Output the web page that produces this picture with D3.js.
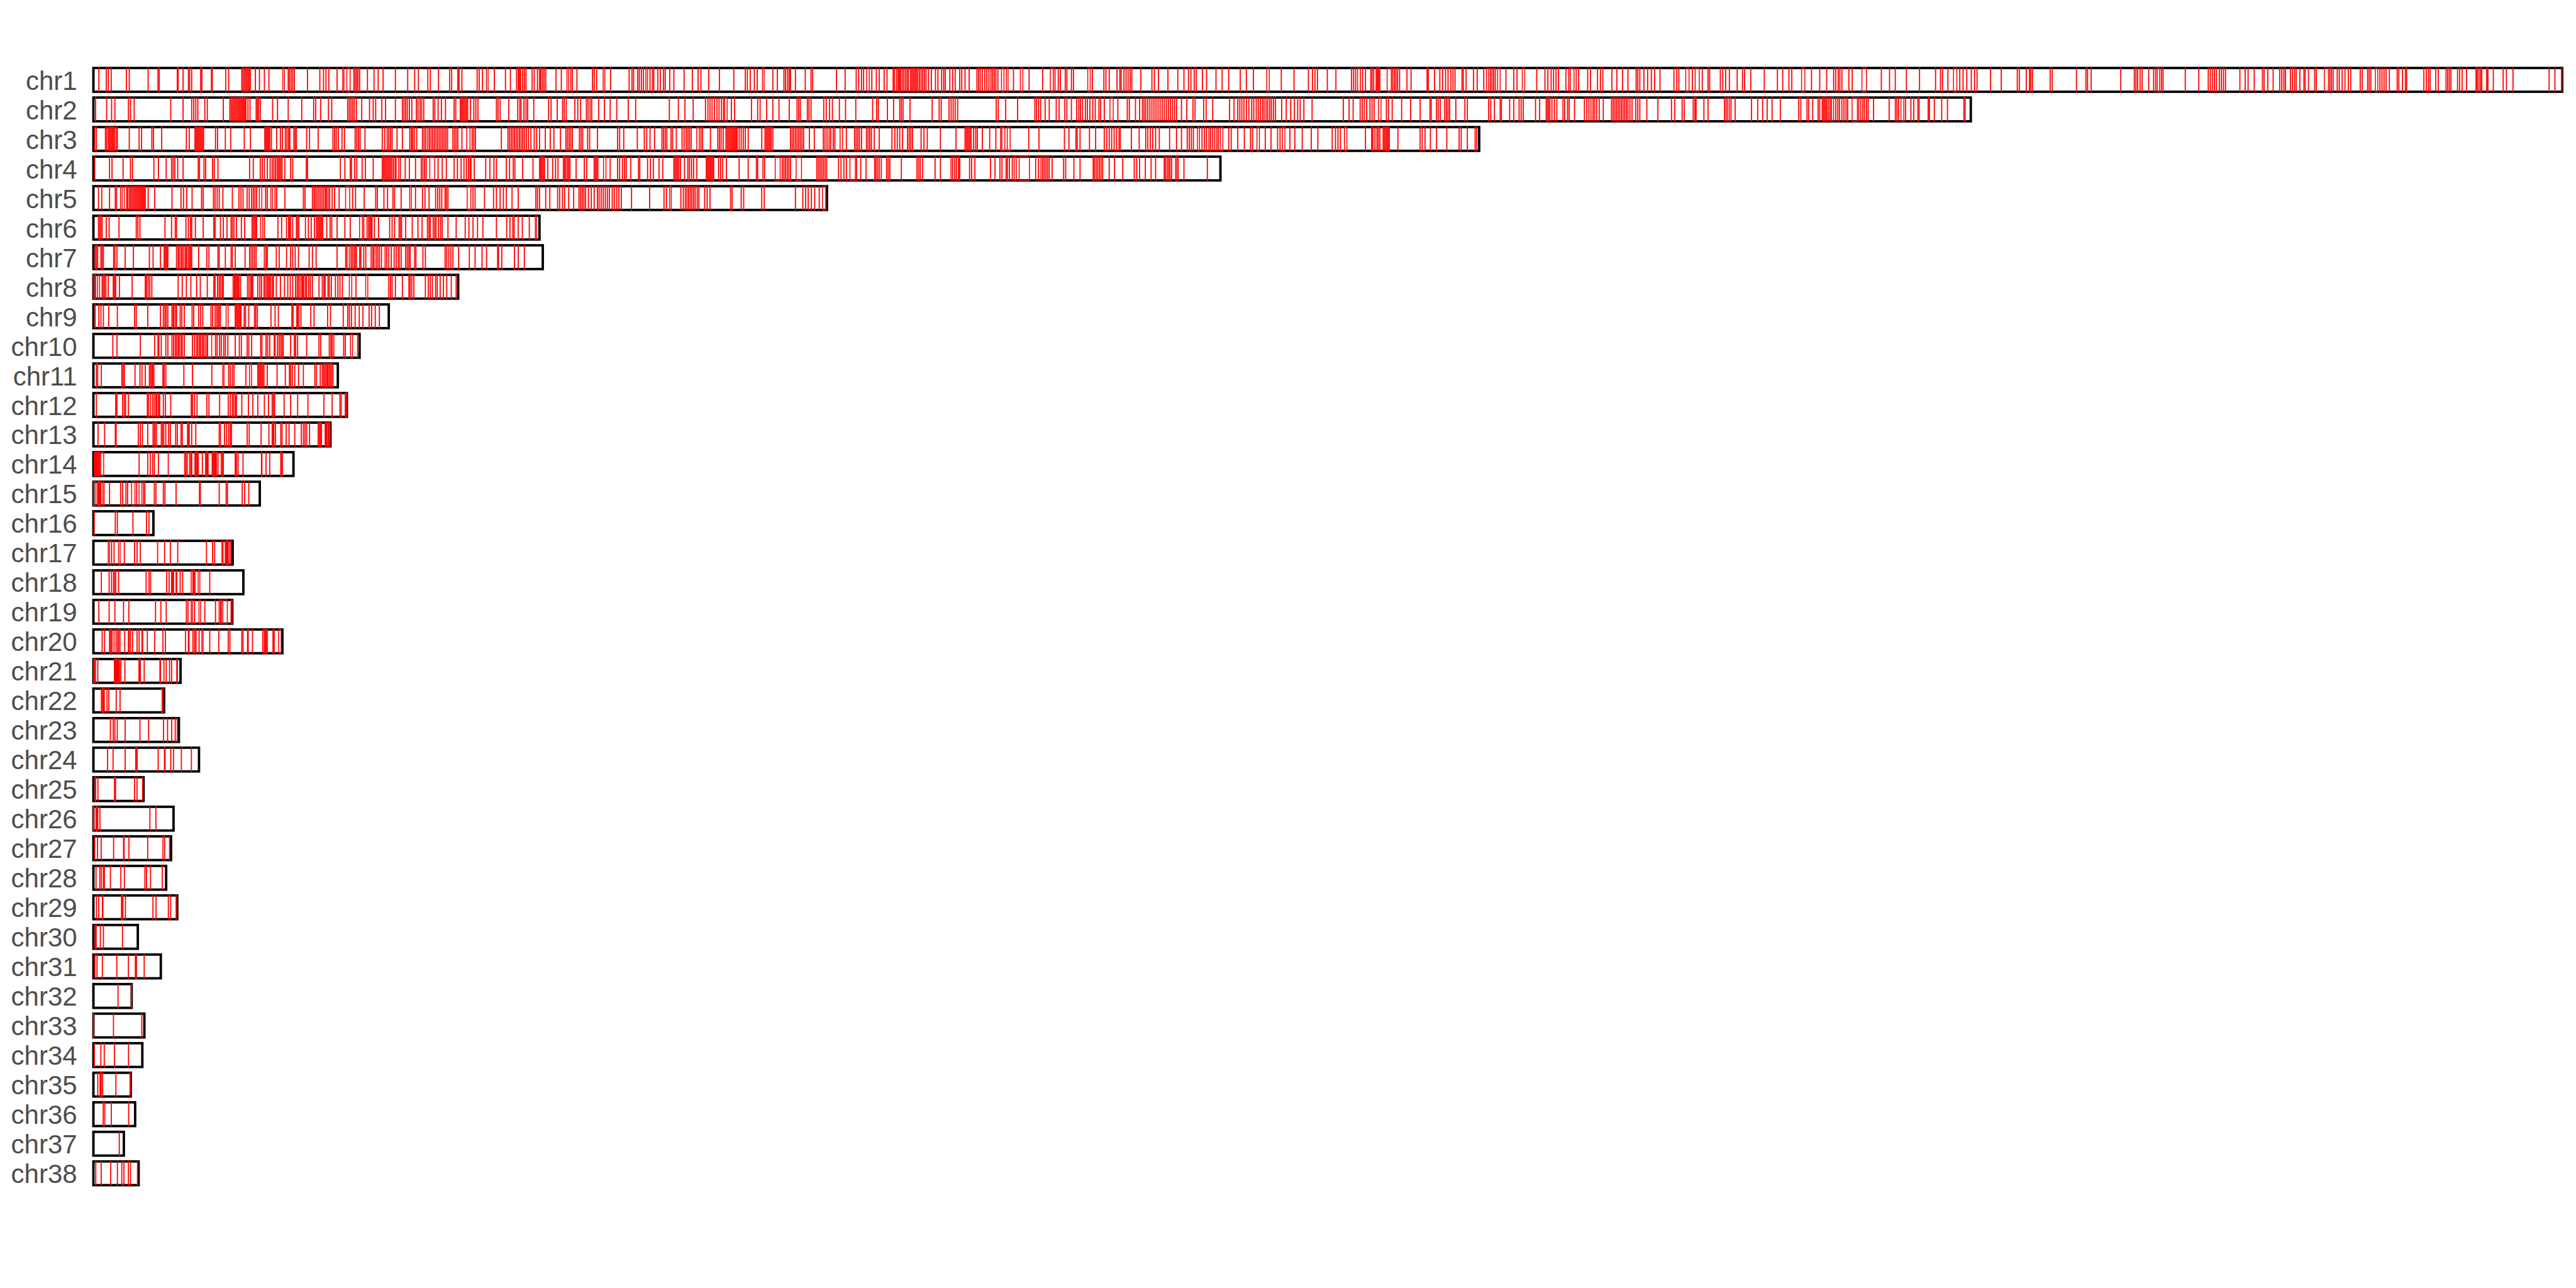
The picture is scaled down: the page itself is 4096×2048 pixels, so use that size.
<!DOCTYPE html>
<html><head><meta charset="utf-8">
<script src="https://cdn.jsdelivr.net/npm/d3@7"></script>
<style>html,body{margin:0;padding:0;background:#fff;} svg{display:block;}</style>
</head><body>
<script>
// Chromosome names and lengths (Mb)
const chromNames = ["chr1","chr2","chr3","chr4","chr5","chr6","chr7","chr8","chr9","chr10","chr11","chr12","chr13","chr14","chr15","chr16","chr17","chr18","chr19","chr20","chr21","chr22","chr23","chr24","chr25","chr26","chr27","chr28","chr29","chr30","chr31","chr32","chr33","chr34","chr35","chr36","chr37","chr38"];
const chromLengths = [601.7,457.7,338.0,275.0,179.2,109.2,110.0,89.4,72.5,65.4,60.1,62.3,58.3,49.3,41.1,15.2,34.5,37.1,34.4,46.6,21.8,17.8,21.4,26.3,12.8,20.1,19.5,18.3,21.0,11.4,17.0,9.9,13.0,12.5,9.7,10.75,8.0,11.6];

// Feature positions (Mb); [start, end] pairs are wider features
const chr1 = [1.6,3.4,3.9,4.6,8.3,9.0,13.6,16.0,16.3,20.7,20.9,22.1,23.4,23.7,24.2,26.4,26.7,29.0,29.2,32.5,33.2,36.4,36.7,37.0,37.3,37.6,37.9,38.2,38.5,39.7,40.7,41.9,43.0,[46.4,46.8],47.7,48.0,48.4,48.8,49.2,52.4,55.4,56.3,56.9,57.6,59.6,[61.0,61.3],[62.0,62.8],63.7,64.0,64.4,64.7,65.1,67.0,68.6,69.6,70.8,73.8,76.8,78.5,79.4,81.7,82.3,84.3,87.0,87.5,89.0,89.3,90.0,93.7,94.2,95.0,[96.0,96.4],97.9,100.6,101.8,103.3,103.7,104.0,104.3,104.8,105.2,105.6,107.1,107.6,108.4,108.9,109.2,109.6,110.0,110.4,112.9,114.2,[115.6,116.0],116.5,116.9,118.0,121.8,122.2,122.8,[124.4,124.8],126.2,130.7,131.4,131.8,132.8,133.2,133.7,134.2,[134.8,135.2],135.8,136.4,136.7,137.7,138.3,139.1,139.5,140.6,141.6,144.1,146.1,147.5,148.2,150.1,152.7,
156.2,159.0,159.5,160.2,161.2,161.9,[163.2,163.6],165.7,166.8,168.4,168.8,169.3,169.7,170.0,171.2,173.6,175.0,175.4,181.2,183.3,186.0,186.6,187.3,187.8,[188.6,189.2],189.8,190.9,191.6,192.8,193.5,195.0,195.3,195.8,196.2,196.5,196.8,197.2,197.6,198.0,198.4,198.7,199.2,199.5,199.8,200.1,200.4,200.7,201.0,201.4,201.8,202.2,202.6,203.0,203.6,204.3,205.3,205.9,206.8,207.3,207.7,208.8,209.5,210.1,211.2,211.7,212.5,213.5,215.4,215.8,216.2,216.7,217.3,217.8,218.3,218.8,219.2,219.6,220.0,220.5,[221.4,222.0],[222.6,223.0],224.3,[226.0,226.6],228.1,231.4,[233.3,234.0],234.4,235.2,235.7,236.9,237.3,238.4,238.9,[242.4,243.0],243.5,246.3,246.8,247.6,249.5,250.2,250.5,251.2,251.7,252.2,252.7,253.1,255.3,258.0,258.6,259.6,261.9,264.3,265.8,266.9,267.5,268.3,268.8,270.3,271.3,273.6,275.1,276.7,279.5,281.0,282.7,[286.0,286.6],289.5,292.6,296.1,297.1,297.7,298.3,300.7,302.8,306.6,307.1,307.6,[308.1,308.8],309.3,310.0,
311.3,311.6,312.0,312.6,312.9,313.2,313.5,[315.3,316.3],316.6,317.0,317.4,317.8,318.3,320.1,321.1,325.0,325.3,326.8,328.1,328.8,329.5,330.1,330.8,331.3,331.8,333.5,333.8,334.5,336.3,337.2,338.8,[339.5,340.0],340.4,340.8,341.2,341.6,[342.2,342.8],344.2,346.1,346.9,[348.2,348.8],351.7,353.7,354.4,355.2,355.8,356.4,357.0,358.8,359.5,[359.9,360.8],361.3,361.9,364.1,364.8,366.5,367.2,367.8,370.0,371.2,372.6,373.9,375.9,376.3,376.8,377.8,378.7,379.6,380.4,381.7,385.1,385.8,386.3,[388.0,388.8],389.6,[390.3,391.3],392.0,393.4,393.8,396.4,397.0,397.7,398.6,400.5,401.8,402.3,403.8,407.1,410.3,411.6,413.1,413.8,[416.2,417.0],418.6,420.6,422.3,424.0,424.5,425.1,425.5,426.0,427.7,428.5,[430.9,432.0],435.6,437.6,439.0,441.7,444.9,448.8,450.0,450.5,451.8,[453.2,454.0],454.7,455.5,456.4,457.5,458.3,458.9,462.2,464.8,
468.7,469.2,470.9,471.7,472.0,472.4,476.7,477.2,483.1,485.4,485.8,486.7,493.9,497.2,497.6,498.0,498.6,499.1,500.7,501.9,502.4,[502.8,503.4],503.8,504.2,509.6,512.9,515.2,515.7,516.2,516.7,517.2,517.9,518.4,518.9,519.4,522.9,524.2,524.9,526.4,528.4,528.8,529.7,531.0,532.6,533.1,533.6,534.0,535.2,535.7,536.2,536.6,537.5,538.5,538.8,539.6,541.1,541.5,[543.5,544.5],544.8,545.2,545.6,546.6,547.1,547.8,548.5,549.3,549.9,552.2,552.7,554.0,554.4,554.8,[555.9,556.5],557.0,557.5,558.0,558.5,559.3,561.2,561.6,562.5,563.2,563.5,567.7,568.3,568.8,569.2,570.6,571.2,573.1,573.5,573.9,574.3,575.9,576.4,577.0,578.1,580.4,580.7,581.1,581.5,581.8,583.0,583.3,584.6,587.0,587.8,589.4,598.2,599.6,601.3];
const chr2 = [0.8,3.5,4.7,5.5,8.8,9.3,10.2,19.1,22.1,24.2,24.7,25.2,25.7,27.4,28.0,31.9,33.5,33.8,34.1,34.4,34.7,35.0,35.3,35.6,35.9,36.2,36.5,36.8,37.1,37.4,37.9,38.4,39.9,40.2,40.5,40.9,43.9,45.1,47.7,51.0,53.9,54.4,55.6,57.5,58.3,62.2,62.6,63.0,63.4,63.8,64.3,65.6,67.5,68.4,69.0,70.5,71.4,73.8,75.5,75.9,76.3,76.7,77.2,77.8,78.9,79.3,79.8,80.2,80.7,83.0,83.4,84.2,85.0,86.0,88.1,88.5,89.6,89.9,90.2,90.5,90.8,91.1,91.4,92.1,92.9,93.4,93.9,98.4,98.8,99.3,101.4,103.6,104.1,104.4,105.1,105.6,106.0,107.5,111.1,111.7,113.2,114.5,114.9,115.4,117.5,118.2,118.9,120.3,120.7,121.2,121.6,123.3,124.7,126.1,127.7,130.5,132.3,140.5,142.7,144.3,146.3,149.3,149.9,150.4,150.9,151.5,152.1,152.6,153.2,153.7,
[154.0,154.6],155.6,156.4,160.5,162.0,162.6,164.2,165.7,167.2,169.7,171.6,172.0,172.4,174.1,174.5,175.0,178.1,178.7,179.5,180.2,181.9,183.4,185.9,190.0,191.0,191.4,193.6,195.1,196.6,197.0,197.4,199.1,204.5,206.2,206.7,208.6,209.1,209.6,210.1,210.7,220.1,220.6,222.4,225.3,229.5,229.9,230.4,230.9,232.0,233.0,234.7,235.4,236.8,237.3,238.4,239.7,240.2,240.6,241.1,241.8,242.3,242.9,243.6,244.2,245.1,245.5,246.4,[247.8,248.6],249.7,252.0,252.5,254.0,255.0,255.7,256.1,256.5,257.0,257.5,258.0,258.5,259.0,259.5,260.0,260.5,261.0,261.5,262.0,262.5,263.0,263.5,264.0,265.2,266.5,268.0,268.5,270.6,271.2,272.8,276.9,278.0,278.9,279.4,279.9,280.4,281.0,281.6,282.3,282.8,283.4,283.9,284.4,284.9,285.3,285.8,286.2,286.7,287.1,287.6,288.1,289.6,290.7,291.8,292.7,293.5,294.1,295.0,297.0,304.6,306.0,307.0,308.7,309.2,309.7,310.3,
311.1,311.6,312.1,[313.2,313.8],315.1,315.6,316.5,318.8,321.0,323.3,325.7,326.0,327.3,327.7,328.2,329.3,329.7,330.1,330.5,332.0,334.2,334.8,340.0,340.5,341.4,342.8,343.1,345.1,346.1,347.4,347.9,348.4,351.4,352.4,354.0,354.3,354.6,354.9,355.4,356.0,356.6,358.1,358.5,359.2,359.6,360.9,363.3,363.9,364.4,364.9,365.4,365.8,366.3,366.9,367.9,369.9,370.3,370.7,371.1,371.5,371.9,372.3,372.7,373.1,373.5,373.9,374.4,374.9,375.8,376.3,376.8,378.5,381.2,384.5,385.3,387.1,387.6,389.8,390.2,390.5,392.4,393.4,397.4,397.8,[398.2,398.6],399.0,400.0,404.0,405.5,406.7,407.8,409.0,411.0,415.5,416.0,417.5,417.9,418.9,420.2,420.6,421.2,421.5,421.8,422.1,422.4,422.8,423.2,[423.5,424.0],424.5,425.0,425.4,426.0,426.5,427.0,427.4,[428.5,429.8],430.1,430.6,431.1,431.5,432.0,432.4,433.7,437.5,439.0,439.4,439.8,[440.4,441.1],441.5,442.8,443.5,444.5,444.8,447.0,447.3,448.5,450.3,451.7,455.7,456.0];
const chr3 = [0.6,1.0,3.2,3.5,3.9,4.2,4.5,4.8,5.1,5.4,5.8,6.1,9.0,11.4,12.0,14.5,14.9,16.9,22.9,23.6,25.0,25.3,25.6,25.9,26.2,26.5,26.8,27.1,30.0,30.5,32.4,33.7,37.0,38.5,42.0,42.3,42.6,42.9,43.2,43.6,44.9,45.8,46.3,47.0,47.4,47.8,48.1,49.1,49.4,49.7,52.2,52.9,55.0,58.6,59.0,59.4,59.9,60.8,61.4,64.0,64.4,64.8,65.2,66.4,70.6,71.2,71.8,72.2,72.6,73.0,74.2,75.5,77.3,77.7,78.0,78.4,79.0,80.4,80.8,81.2,81.7,82.1,82.5,82.9,83.3,83.7,84.1,84.5,84.9,85.3,85.7,86.1,86.5,87.8,88.2,88.6,89.0,90.0,[91.2,92.0],92.5,92.9,93.3,99.6,101.2,101.6,102.0,102.4,102.8,103.2,103.6,104.0,104.4,104.8,105.2,105.7,106.2,106.8,107.6,108.2,108.9,110.3,111.5,112.4,114.0,115.3,115.7,116.1,116.5,116.9,118.6,119.0,119.4,120.6,121.1,123.0,127.9,128.4,129.4,132.7,134.4,135.0,135.8,136.9,138.7,139.1,139.5,139.9,140.9,141.3,142.2,143.6,144.1,144.6,145.0,145.4,145.8,[147.2,147.8],148.2,148.6,150.5,152.3,152.7,153.1,153.6,
154.3,154.6,154.9,155.2,155.5,155.8,156.1,156.4,156.7,157.0,157.5,158.0,158.5,159.0,159.7,163.0,163.8,164.1,164.4,164.7,165.0,165.3,165.7,170.0,170.4,170.8,171.2,171.6,172.0,172.4,172.8,173.2,174.6,175.8,178.0,178.4,178.9,179.4,179.8,180.4,180.8,[182.1,182.7],183.6,185.6,186.0,186.4,186.8,187.3,188.5,188.9,189.3,189.7,190.4,191.6,194.7,195.4,196.0,196.6,197.3,198.5,198.9,199.3,199.7,201.8,202.5,203.3,206.5,210.3,212.5,212.8,213.1,213.4,213.7,214.0,214.6,215.1,215.5,216.7,218.5,220.0,221.2,[221.5,222.2],[222.8,223.5],228.0,230.5,236.7,237.8,239.5,239.8,240.5,242.8,244.3,246.4,247.0,247.6,248.2,248.8,249.4,250.0,250.3,253.0,254.9,256.5,257.0,257.6,258.2,258.9,259.8,262.3,264.0,265.2,266.6,267.1,267.6,268.1,[269.1,269.6],270.2,270.8,271.3,271.9,272.3,272.8,273.3,273.8,274.2,[274.7,275.3],276.7,277.3,278.9,280.5,282.0,282.5,[283.6,284.2],285.6,287.0,288.6,289.2,[289.8,290.4],291.6,292.8,294.6,296.8,298.4,301.9,302.7,303.3,303.9,[304.9,305.5],310.0,
311.5,311.8,312.3,312.8,313.1,313.5,314.3,314.6,314.9,315.2,315.5,315.8,317.9,323.3,323.8,324.5,325.8,327.3,329.8,332.8,333.3,334.8,336.7,337.1];
const chr4 = [0.6,4.2,4.8,7.5,9.3,9.8,15.0,16.1,18.0,19.3,19.7,20.1,20.8,22.1,25.8,26.1,27.2,27.6,29.3,29.7,30.6,38.3,39.2,40.9,41.4,41.9,42.6,43.3,43.8,44.2,44.6,45.0,45.3,45.6,45.9,46.2,46.9,48.3,48.8,52.1,52.4,60.4,61.5,62.8,63.1,63.9,64.4,65.7,66.5,68.4,70.6,70.9,71.2,71.5,71.8,72.1,72.4,72.7,73.0,73.4,73.8,[74.0,74.6],75.0,76.2,77.2,78.7,80.1,80.5,80.9,81.3,[82.2,83.4],84.2,85.2,86.2,88.1,88.9,89.8,90.5,91.1,91.6,92.0,92.2,93.0,95.8,96.8,97.8,98.4,100.8,101.6,102.5,102.9,104.8,107.3,108.9,109.2,109.5,109.8,110.1,110.9,112.1,112.8,113.4,114.7,115.0,115.3,115.7,116.0,116.3,117.8,119.8,120.4,122.2,122.5,122.8,123.1,[124.5,125.1],126.1,127.9,128.4,129.1,129.6,130.0,131.1,133.0,133.3,135.2,135.9,136.6,138.0,138.9,141.6,141.9,142.2,142.5,142.8,143.2,144.2,145.0,145.4,145.9,146.4,147.2,149.5,149.8,150.1,150.4,150.7,151.0,151.3,152.5,153.0,153.5,
154.4,157.5,159.7,161.7,162.0,163.3,163.7,[166.3,167.5],168.0,168.4,168.8,169.2,169.6,170.0,[171.4,172.7],176.4,176.8,177.2,177.6,178.0,178.4,178.8,181.7,182.3,183.0,183.6,[184.5,185.8],186.1,187.1,188.4,190.5,190.8,191.2,191.6,192.1,193.4,193.8,194.2,197.0,200.8,201.2,201.6,202.2,205.2,206.5,209.1,209.5,210.0,210.4,210.9,211.2,213.6,214.1,214.9,218.7,219.8,221.0,221.5,222.5,222.8,223.3,224.0,[224.5,225.0],[225.7,228.2],229.7,230.4,231.0,231.4,231.8,232.2,232.6,233.0,233.7,236.5,237.0,239.0,240.5,243.7,244.0,244.4,244.8,245.2,245.6,246.0,247.6,248.9,250.9,253.7,254.3,255.0,256.4,257.8,258.9,261.0,261.3,261.7,262.1,262.4,262.8,[263.8,264.1],264.4,265.8,271.5];
const chr5 = [1.5,2.3,4.2,5.6,5.9,[6.9,7.3],[7.8,8.4],8.6,9.0,9.3,9.6,9.9,10.2,10.5,10.8,11.1,11.4,11.7,12.0,12.3,12.6,12.9,13.6,15.2,19.4,21.6,22.2,23.0,24.3,26.6,27.0,29.5,29.9,30.4,30.9,31.8,34.1,35.7,36.2,36.7,37.7,38.2,38.8,39.2,39.6,40.0,[40.7,41.3],42.2,42.6,[43.5,43.9],44.5,44.9,46.9,51.4,51.8,53.6,54.0,54.3,54.7,55.1,55.5,55.9,56.3,56.7,57.0,57.4,57.8,58.4,59.0,60.1,[61.7,62.7],63.4,64.1,66.2,69.0,69.4,71.0,71.9,73.2,73.6,75.2,[77.3,77.7],78.7,80.4,81.0,82.0,83.6,84.1,84.6,85.1,85.9,86.2,86.6,[91.3,92.2],92.7,93.2,95.5,97.7,98.4,99.3,100.1,100.8,102.2,103.7,108.0,108.4,108.9,110.4,111.4,113.3,113.8,114.5,115.0,116.0,117.2,118.5,118.9,119.3,119.7,120.1,120.8,121.5,122.2,123.0,123.4,123.9,124.4,124.9,125.4,125.9,126.6,127.1,127.7,128.2,128.8,131.3,135.7,139.2,139.8,[140.6,141.0],143.3,143.9,144.4,144.8,145.2,145.6,146.0,146.4,146.8,147.3,147.7,149.1,149.7,150.4,
155.4,155.8,158.0,158.6,163.0,163.6,171.2,173.0,173.7,174.3,175.1,175.9,177.0,[177.8,178.6]];
const chr6 = [1.5,1.8,2.1,2.4,3.4,4.1,6.5,10.7,11.1,11.6,17.7,19.3,20.2,20.5,22.8,23.4,23.9,24.2,25.1,27.0,29.6,29.9,31.2,31.9,32.8,33.8,34.1,34.5,35.1,36.3,37.1,38.9,39.2,39.5,39.8,40.0,[41.0,41.5],41.9,45.2,46.1,47.3,47.8,48.0,48.3,48.8,49.7,50.0,50.3,51.9,52.6,53.3,54.1,54.6,54.9,55.2,55.5,55.8,56.1,57.1,57.9,58.3,59.6,61.5,62.8,[65.1,65.8],66.1,66.9,67.3,67.6,67.9,68.1,68.7,69.7,72.4,73.0,73.6,74.7,75.0,75.3,76.3,77.9,79.3,80.3,81.6,82.0,82.3,83.0,83.4,83.7,84.3,84.8,85.2,86.6,88.6,90.8,91.7,92.7,93.8,95.1,98.4,100.9,101.7,102.4,102.7,103.7,104.7,106.4,[107.9,108.2]];
const chr7 = [0.7,1.0,1.3,2.1,2.4,2.7,5.2,5.5,6.0,8.0,10.0,13.9,14.8,16.6,17.5,17.8,18.1,18.4,20.5,20.9,21.2,21.6,21.9,22.3,22.7,23.0,23.4,23.7,23.9,24.2,25.9,27.9,28.4,30.6,30.9,32.4,33.8,34.1,34.8,37.2,38.3,38.7,39.1,39.5,39.9,41.9,42.3,42.6,44.8,45.5,47.3,48.3,48.8,49.4,50.2,52.8,53.6,54.5,59.6,61.7,62.0,[62.6,63.0],63.3,63.7,64.0,64.3,65.1,65.4,66.1,66.6,67.9,68.3,68.6,69.1,69.5,69.9,70.4,71.3,71.7,72.2,72.8,73.5,74.0,[74.5,74.8],75.2,76.3,76.7,77.1,77.4,78.5,78.8,80.5,81.1,85.9,86.3,86.8,87.3,87.8,89.2,91.8,93.2,94.9,96.0,98.7,98.9,99.7,102.8,103.7,105.2];
const chr8 = [[0.3,0.7],0.8,[1.3,1.8],2.4,2.7,3.0,3.3,3.9,5.1,5.4,5.7,6.6,9.7,12.9,13.2,13.6,14.0,14.5,20.9,21.9,22.9,24.0,25.4,26.3,28.0,29.6,29.9,30.5,30.9,31.2,31.6,31.9,34.3,34.6,34.8,35.1,35.4,35.7,36.1,37.8,38.2,38.6,38.8,39.1,40.3,40.8,41.2,41.8,42.1,42.5,42.8,43.1,43.4,43.8,44.1,44.8,45.8,46.8,47.6,48.2,48.8,49.5,49.9,50.2,50.6,51.0,51.2,51.5,51.9,52.2,52.7,53.1,53.6,55.2,56.0,56.4,56.7,57.4,57.7,58.2,59.2,59.8,60.3,60.9,[62.6,63.2],64.2,[66.6,67.1],72.2,72.6,73.0,73.8,75.5,77.1,77.4,77.8,78.3,81.1,81.8,82.3,82.8,83.6,84.0,84.7,85.5,86.3,87.4,88.6];
const chr9 = [0.7,1.6,2.1,2.7,4.0,6.1,10.3,10.7,13.5,16.6,17.3,17.7,18.0,18.4,19.4,19.7,19.9,20.3,20.5,21.4,21.8,22.4,24.3,24.7,25.9,26.4,26.9,28.9,29.3,29.9,30.3,30.6,30.9,31.2,[32.6,33.1],34.8,35.1,35.4,35.7,36.0,36.2,37.0,37.3,38.1,39.5,39.8,40.2,43.5,44.5,45.3,48.6,48.9,49.8,50.0,50.3,50.8,53.2,54.0,57.3,58.0,61.1,62.2,62.6,63.1,64.0,65.0,65.9,67.4,68.0,68.9,69.9];
const chr10 = [5.0,6.0,11.7,15.2,16.0,16.2,16.8,17.9,18.4,19.4,19.8,20.2,20.5,20.9,21.2,21.6,21.9,22.4,24.4,24.9,25.4,25.7,26.1,26.4,26.8,27.1,27.5,27.9,[28.1,29.1],30.0,30.4,31.0,31.4,32.0,32.4,33.0,34.8,35.8,36.3,37.7,38.1,38.8,41.0,41.3,42.3,42.7,43.2,44.3,44.5,45.1,45.5,45.9,46.2,46.5,48.3,49.2,49.5,50.0,52.2,55.2,55.6,57.7,58.1,58.4,58.8,61.2,61.6,[62.9,63.4],64.6];
const chr11 = [1.0,1.3,2.2,7.2,7.5,7.8,10.4,11.6,12.1,12.9,13.9,14.2,14.5,14.7,15.0,17.2,17.5,17.9,22.3,24.4,29.1,[31.8,32.1],33.2,33.6,34.1,34.5,37.4,[38.3,38.8],40.3,40.6,40.9,41.2,41.5,41.8,42.6,45.0,47.0,48.0,48.3,48.7,49.3,50.2,51.4,54.2,54.6,55.5,56.0,56.3,56.6,56.9,57.2,57.4,57.7,58.0,58.3,58.6];
const chr12 = [1.0,5.7,6.0,7.4,7.8,8.1,8.8,13.4,13.7,14.2,14.7,15.1,15.5,15.7,16.1,16.4,17.3,17.8,19.1,24.1,24.4,24.9,25.5,27.9,28.4,31.0,33.1,33.6,34.1,34.4,34.8,35.1,36.4,38.0,39.1,40.3,41.9,42.9,43.8,44.1,44.4,46.7,48.3,50.0,52.5,56.4,58.4,60.3,60.6,61.6,61.9];
const chr13 = [1.4,3.0,5.6,5.8,11.2,11.7,12.2,13.5,14.8,15.1,[15.4,15.7],16.8,17.1,17.4,17.9,18.6,19.0,20.3,20.7,21.6,21.9,23.2,23.4,23.6,24.2,25.2,30.9,31.2,32.2,32.7,33.2,33.6,33.9,37.7,38.2,41.1,43.0,43.8,44.0,44.2,44.6,45.9,46.2,47.2,47.9,49.3,50.9,51.4,51.8,52.2,52.9,55.0,55.3,55.6,55.8,56.7,56.9,57.1,57.4,[57.6,57.9]];
const chr14 = [0.5,0.7,0.8,1.0,1.1,1.3,1.4,1.6,1.8,[2.1,2.8],11.4,13.5,14.1,14.7,15.1,16.1,18.5,22.5,22.8,23.1,23.7,24.0,24.2,25.0,25.1,25.3,25.6,25.8,26.8,27.6,27.8,28.0,28.2,29.2,29.4,29.6,29.8,30.0,30.2,30.6,31.4,31.7,31.9,34.8,35.1,35.5,36.7,41.2,41.3,42.3,43.2,45.9,46.0,46.3];
const chr15 = [[0.3,0.9],1.3,1.4,1.5,1.7,1.8,2.0,2.1,[2.6,2.9],4.2,6.9,7.4,8.2,8.6,[9.6,10.4],10.8,[11.4,12.1],12.5,12.8,15.1,15.5,17.3,17.7,20.4,26.1,26.3,30.9,32.6,32.9,36.5,37.1,38.1];
const chr16 = [0.45,5.6,6.1,9.9,13.2,13.8];
const chr17 = [[3.9,4.2],4.7,5.3,[6.4,6.8],7.8,10.3,10.9,11.7,15.9,17.6,19.0,20.8,27.8,29.3,29.8,31.6,31.8,32.4,32.6,32.8,32.9,33.1,33.5,33.8];
const chr18 = [2.2,4.1,4.7,[5.2,5.4],5.7,6.4,13.1,13.8,14.2,18.1,18.7,19.3,19.5,19.6,19.8,[20.4,20.6],21.4,22.0,[24.1,24.5],24.7,25.0,[25.8,26.2],28.6];
const chr19 = [1.6,4.1,5.5,7.6,8.9,15.4,16.7,18.0,22.9,23.3,[24.1,24.4],24.9,[26.0,26.4],27.4,30.0,[30.9,31.2],31.4,[31.8,32.9],[33.8,34.1]];
const chr20 = [2.4,3.0,4.2,4.5,4.8,5.3,5.8,6.2,[6.5,6.8],7.9,[8.8,9.0],9.3,9.8,10.9,11.4,[12.1,12.3],13.4,15.2,17.2,17.8,22.7,[23.4,23.6],24.5,24.9,[25.2,25.3],26.0,[26.7,27.0],28.6,30.8,33.1,33.5,36.4,36.7,[37.8,38.0],39.0,41.5,41.9,42.1,42.3,42.6,44.0,44.3,[45.4,46.0]];
const chr21 = [0.36,0.49,0.62,0.75,1.34,5.39,5.55,5.72,5.88,6.14,6.31,6.47,6.6,6.96,7.94,11.37,11.53,11.7,12.64,16.47,16.6,17.45,18.0,18.82,19.31,20.58,20.71];
const chr22 = [2.22,2.52,2.71,2.91,3.59,4.02,5.82,6.76,17.02,17.12];
const chr23 = [4.41,5.1,5.49,6.08,8.0,11.6,13.72,17.35,18.33,19.34,20.19,20.71];
const chr24 = [3.72,5.06,8.0,10.59,10.68,10.94,16.04,17.58,17.71,19.11,19.77,21.69,24.14];
const chr25 = [0.69,0.82,1.37,5.42,5.65,10.29,10.88,12.25];
const chr26 = [0.26,0.36,0.91,1.01,1.11,1.24,1.34,1.86,14.02,15.49];
const chr27 = [0.59,1.27,2.16,5.19,7.61,7.74,8.92,13.49,17.22,17.64,18.82];
const chr28 = [0.91,1.83,2.22,2.71,2.94,4.41,6.96,7.81,12.81,13.2,14.18,17.05];
const chr29 = [1.01,1.57,2.48,2.58,7.12,7.32,7.45,8.07,14.77,15.52,18.52,19.08,20.42];
const chr30 = [0.69,0.82,0.95,1.96,2.71,7.35];
const chr31 = [0.65,1.14,2.45,5.98,8.79,10.49,10.75,12.64];
const chr32 = [6.27,9.51];
const chr33 = [0.29,5.16,12.06];
const chr34 = [0.49,2.09,2.91,5.42,8.82];
const chr35 = [1.34,1.89,2.02,2.16,2.52,5.75,9.28];
const chr36 = [2.65,3.04,4.64,8.85];
const chr37 = [6.57];
const chr38 = [0.85,2.16,4.48,6.11,7.19,7.71,8.79,9.31,11.01];

const featureSets = [chr1,chr2,chr3,chr4,chr5,chr6,chr7,chr8,chr9,chr10,chr11,chr12,chr13,chr14,chr15,chr16,chr17,chr18,chr19,chr20,chr21,chr22,chr23,chr24,chr25,chr26,chr27,chr28,chr29,chr30,chr31,chr32,chr33,chr34,chr35,chr36,chr37,chr38];

const W = 4096, H = 2048;
const svg = d3.select("body").append("svg").attr("width", W).attr("height", H);
svg.append("rect").attr("width", W).attr("height", H).attr("fill", "#fff");

const x = d3.scaleLinear().domain([0, d3.max(chromLengths)]).range([146.6, 4076]);
const y = d3.scalePoint().domain(chromNames).range([127.0, 1865.6]);

const strokeW = 3.84;
const outerH = 41.6;
const barH = outerH - strokeW;

const chroms = chromNames.map((name, i) => ({name, len: chromLengths[i], feats: featureSets[i]}));

// chromosome frames
svg.append("g").selectAll("rect").data(chroms).join("rect")
  .attr("x", d => x(0) + strokeW / 2)
  .attr("y", d => y(d.name) - barH / 2)
  .attr("width", d => x(d.len) - x(0) - strokeW)
  .attr("height", barH)
  .attr("fill", "#fff")
  .attr("stroke", "#000")
  .attr("stroke-width", strokeW);

// features
const flat = [];
chroms.forEach(c => c.feats.forEach(f => {
  const s = Array.isArray(f) ? f[0] : f;
  const e = Array.isArray(f) ? f[1] : f;
  flat.push({name: c.name, s, e});
}));
svg.append("g").selectAll("rect").data(flat).join("rect")
  .attr("x", d => x(d.s))
  .attr("y", d => y(d.name) - barH / 2)
  .attr("width", d => Math.max(0.3, x(d.e) - x(d.s)))
  .attr("height", barH)
  .attr("fill", "none")
  .attr("stroke", "#ff0000")
  .attr("stroke-width", 1.5);

// labels
const axis = svg.append("g")
  .attr("transform", `translate(${x(0) - 24},0)`)
  .call(d3.axisLeft(y).tickSize(0).tickPadding(0));
axis.select(".domain").remove();
axis.selectAll("text")
  .attr("dy", "0.36em")
  .attr("fill", "#4d4d4d")
  .style("font-family", "'Liberation Sans', Arial, Helvetica, sans-serif")
  .style("font-size", "42px");
</script>
</body></html>
